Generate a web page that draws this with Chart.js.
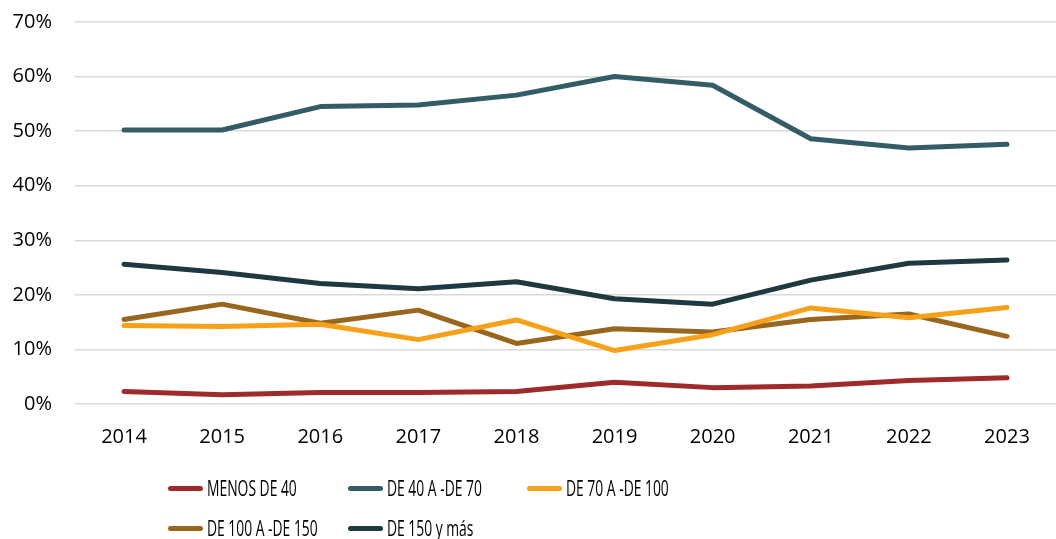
<!DOCTYPE html>
<html>
<head>
<meta charset="utf-8">
<script src="https://cdn.jsdelivr.net/npm/chart.js@4"></script>
<style>
  body { margin: 0; background: #fff; overflow: hidden; }
  #wrap { position: relative; top: -13px; width: 1056px; height: 483px; }
  #leyenda {
    position: absolute; left: 168px; top: 468px; width: 545px;
    display: flex; flex-wrap: wrap;
    font-family: "Open Sans", sans-serif; font-size: 21px; color: #000;
  }
  .item { width: 179.5px; height: 40px; display: flex; align-items: center; white-space: nowrap; }
  .muestra { width: 35px; height: 5px; border-radius: 3px; margin-right: 4px; flex: none; }
  .texto { display: inline-block; transform: scaleX(0.66); transform-origin: left center; }
</style>
</head>
<body>
<div id="wrap"><canvas id="grafico"></canvas></div>
<div id="leyenda"></div>
<script>
const anios = ["2014", "2015", "2016", "2017", "2018", "2019", "2020", "2021", "2022", "2023"];

// porcentajes por tramo
const menosDe40 = [2.3, 1.7, 2.1, 2.1, 2.3, 4.0, 3.0, 3.3, 4.3, 4.8];
const de40a70 = [50.2, 50.2, 54.5, 54.8, 56.6, 60.0, 58.4, 48.6, 46.9, 47.6];
const de70a100 = [14.4, 14.2, 14.6, 11.8, 15.4, 9.8, 12.7, 17.6, 15.8, 17.7];
const de100a150 = [15.5, 18.3, 14.8, 17.2, 11.1, 13.8, 13.2, 15.5, 16.5, 12.4];
const de150yMas = [25.6, 24.1, 22.1, 21.1, 22.4, 19.3, 18.3, 22.7, 25.8, 26.4];

const ticksY = [0, 10, 20, 30, 40, 50, 60, 70];

function serie(label, data, color) {
  return {
    label: label,
    data: data,
    borderColor: color,
    backgroundColor: color,
    borderWidth: 5,
    pointRadius: 0,
    tension: 0,
    borderCapStyle: "round",
    borderJoinStyle: "round",
  };
}

const ctx = document.getElementById("grafico").getContext("2d");

const grafico = new Chart(ctx, {
  type: "line",
  data: {
    labels: anios,
    datasets: [
      serie("MENOS DE 40", menosDe40, "#9E2A2B"),
      serie("DE 40 A -DE 70", de40a70, "#335C67"),
      serie("DE 70 A -DE 100", de70a100, "#F7A11B"),
      serie("DE 100 A -DE 150", de100a150, "#99661D"),
      serie("DE 150 y más", de150yMas, "#1F3940"),
    ],
  },
  options: {
    responsive: true,
    maintainAspectRatio: false,
    animation: false,
    layout: {
      autoPadding: false,
      padding: { top: 8, left: 12, right: 0, bottom: 0 },
    },
    plugins: {
      legend: { display: false },
      tooltip: { enabled: false },
    },
    scales: {
      x: {
        offset: true,
        grid: { display: false, drawTicks: false },
        border: { display: false },
        ticks: {
          color: "#000",
          padding: 21,
          font: { family: "Open Sans", size: 20 },
        },
      },
      y: {
        min: 0,
        max: 70,
        afterBuildTicks: function (axis) {
          axis.ticks = ticksY.map((v) => ({ value: v }));
        },
        afterFit: function (axis) {
          axis.width = 63;
        },
        grid: { color: "#d9d9d9", lineWidth: 1.5, drawTicks: false },
        border: { display: false },
        ticks: {
          color: "#000",
          padding: 23,
          font: { family: "Open Sans", size: 20 },
          callback: function (value) {
            return value + "%";
          },
        },
      },
    },
  },
});

// leyenda en cuadricula, como en el original
const leyenda = document.getElementById("leyenda");
grafico.data.datasets.forEach((ds) => {
  const item = document.createElement("div");
  item.className = "item";
  const muestra = document.createElement("span");
  muestra.className = "muestra";
  muestra.style.background = ds.borderColor;
  const texto = document.createElement("span");
  texto.className = "texto";
  texto.textContent = ds.label;
  item.appendChild(muestra);
  item.appendChild(texto);
  leyenda.appendChild(item);
});
</script>
</body>
</html>
